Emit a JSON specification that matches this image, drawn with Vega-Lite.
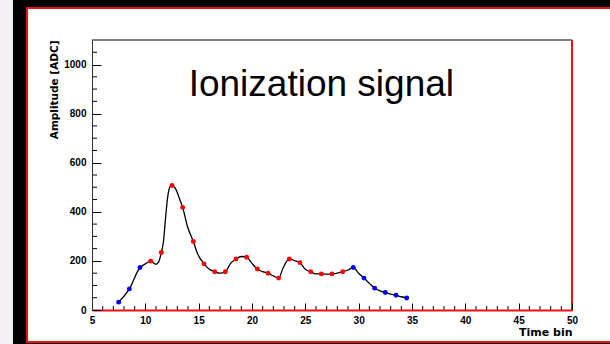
{
  "$schema": "https://vega.github.io/schema/vega-lite/v6.json",
  "width": 480,
  "height": 270,
  "autosize": {"type": "none"},
  "padding": {"left": 92, "top": 40, "right": 38, "bottom": 34},
  "background": "black",
  "config": {
    "view": {"stroke": null},
    "font": "Liberation Sans"
  },
  "datasets": {
    "samples": [
      {"t": 7.5, "amp": 32, "sel": "edge"},
      {"t": 8.5, "amp": 86, "sel": "edge"},
      {"t": 9.5, "amp": 173, "sel": "edge"},
      {"t": 10.5, "amp": 199, "sel": "signal"},
      {"t": 11.5, "amp": 234, "sel": "signal"},
      {"t": 12.5, "amp": 507, "sel": "signal"},
      {"t": 13.5, "amp": 418, "sel": "signal"},
      {"t": 14.5, "amp": 279, "sel": "signal"},
      {"t": 15.5, "amp": 188, "sel": "signal"},
      {"t": 16.5, "amp": 156, "sel": "signal"},
      {"t": 17.5, "amp": 156, "sel": "signal"},
      {"t": 18.5, "amp": 208, "sel": "signal"},
      {"t": 19.5, "amp": 215, "sel": "signal"},
      {"t": 20.5, "amp": 167, "sel": "signal"},
      {"t": 21.5, "amp": 150, "sel": "signal"},
      {"t": 22.5, "amp": 130, "sel": "signal"},
      {"t": 23.5, "amp": 208, "sel": "signal"},
      {"t": 24.5, "amp": 193, "sel": "signal"},
      {"t": 25.5, "amp": 156, "sel": "signal"},
      {"t": 26.5, "amp": 147, "sel": "signal"},
      {"t": 27.5, "amp": 147, "sel": "signal"},
      {"t": 28.5, "amp": 156, "sel": "signal"},
      {"t": 29.5, "amp": 173, "sel": "edge"},
      {"t": 30.5, "amp": 130, "sel": "edge"},
      {"t": 31.5, "amp": 89, "sel": "edge"},
      {"t": 32.5, "amp": 71, "sel": "edge"},
      {"t": 33.5, "amp": 60, "sel": "edge"},
      {"t": 34.5, "amp": 49, "sel": "edge"}
    ],
    "curve": [
      {"t": 7.5, "amp": 32}, {"t": 8.5, "amp": 86}, {"t": 9.5, "amp": 173},
      {"t": 10.0, "amp": 188}, {"t": 10.5, "amp": 199}, {"t": 11.0, "amp": 186},
      {"t": 11.25, "amp": 196}, {"t": 11.5, "amp": 234}, {"t": 11.7, "amp": 279},
      {"t": 11.88, "amp": 367}, {"t": 12.1, "amp": 462}, {"t": 12.3, "amp": 501},
      {"t": 12.5, "amp": 507}, {"t": 12.85, "amp": 493}, {"t": 13.18, "amp": 456},
      {"t": 13.5, "amp": 418}, {"t": 13.95, "amp": 340}, {"t": 14.5, "amp": 279},
      {"t": 14.88, "amp": 231}, {"t": 15.5, "amp": 188}, {"t": 16.0, "amp": 166},
      {"t": 16.5, "amp": 156}, {"t": 17.0, "amp": 150}, {"t": 17.5, "amp": 156},
      {"t": 18.0, "amp": 190}, {"t": 18.5, "amp": 208}, {"t": 19.0, "amp": 218},
      {"t": 19.5, "amp": 215}, {"t": 20.0, "amp": 190}, {"t": 20.5, "amp": 167},
      {"t": 21.0, "amp": 156}, {"t": 21.5, "amp": 150}, {"t": 22.0, "amp": 139},
      {"t": 22.5, "amp": 130}, {"t": 22.9, "amp": 170}, {"t": 23.5, "amp": 208},
      {"t": 24.0, "amp": 201}, {"t": 24.5, "amp": 193}, {"t": 25.0, "amp": 166},
      {"t": 25.5, "amp": 156}, {"t": 26.0, "amp": 147}, {"t": 26.5, "amp": 147},
      {"t": 27.0, "amp": 146}, {"t": 27.5, "amp": 147}, {"t": 28.0, "amp": 150},
      {"t": 28.5, "amp": 156}, {"t": 29.0, "amp": 163}, {"t": 29.5, "amp": 173},
      {"t": 30.0, "amp": 150}, {"t": 30.5, "amp": 130}, {"t": 31.0, "amp": 109},
      {"t": 31.5, "amp": 89}, {"t": 32.0, "amp": 78}, {"t": 32.5, "amp": 71},
      {"t": 33.0, "amp": 65}, {"t": 33.5, "amp": 60}, {"t": 34.0, "amp": 54},
      {"t": 34.5, "amp": 49}
    ],
    "minor_t": [
      {"t": 6}, {"t": 7}, {"t": 8}, {"t": 9}, {"t": 11}, {"t": 12}, {"t": 13}, {"t": 14},
      {"t": 16}, {"t": 17}, {"t": 18}, {"t": 19}, {"t": 21}, {"t": 22}, {"t": 23}, {"t": 24},
      {"t": 26}, {"t": 27}, {"t": 28}, {"t": 29}, {"t": 31}, {"t": 32}, {"t": 33}, {"t": 34},
      {"t": 36}, {"t": 37}, {"t": 38}, {"t": 39}, {"t": 41}, {"t": 42}, {"t": 43}, {"t": 44},
      {"t": 46}, {"t": 47}, {"t": 48}, {"t": 49}
    ],
    "minor_amp": [
      {"amp": 50}, {"amp": 100}, {"amp": 150}, {"amp": 250}, {"amp": 300}, {"amp": 350},
      {"amp": 450}, {"amp": 500}, {"amp": 550}, {"amp": 650}, {"amp": 700}, {"amp": 750},
      {"amp": 850}, {"amp": 900}, {"amp": 950}, {"amp": 1050}
    ]
  },
  "layer": [
    {
      "data": {"values": [{}]},
      "mark": {"type": "rect", "fill": "#f3f1f4", "clip": false},
      "encoding": {
        "x": {
          "datum": -4, "type": "quantitative",
          "scale": {"domain": [5, 50], "nice": false, "zero": false},
          "axis": {
            "zindex": 1,
            "values": [5, 10, 15, 20, 25, 30, 35, 40, 45, 50],
            "format": "d",
            "labelFontSize": 10, "labelFontWeight": "bold", "labelColor": "black",
            "labelPadding": 12, "labelFlush": false, "labelOverlap": false,
            "tickSize": -7, "tickColor": "black", "tickWidth": 1,
            "domainColor": "#ee1111", "domainWidth": 2,
            "grid": false,
            "title": "Time bin",
            "titleFont": "DejaVu Sans",
            "titleAnchor": "end", "titleAlign": "right",
            "titleFontSize": 11, "titleFontWeight": "bold", "titleColor": "black",
            "titlePadding": 1
          }
        },
        "x2": {"datum": -2.41},
        "y": {
          "datum": -300, "type": "quantitative",
          "scale": {"domain": [0, 1100], "nice": false, "zero": false},
          "axis": {
            "zindex": 1,
            "values": [0, 200, 400, 600, 800, 1000],
            "format": "d",
            "labelFontSize": 10, "labelFontWeight": "bold", "labelColor": "black",
            "labelPadding": 15, "labelFlush": false, "labelOverlap": false,
            "tickSize": -9, "tickColor": "black", "tickWidth": 1,
            "domainColor": "#333333", "domainWidth": 1,
            "grid": false,
            "title": "Amplitude [ADC]",
            "titleFont": "DejaVu Sans",
            "titleAnchor": "end",
            "titleFontSize": 10.5, "titleFontWeight": "bold", "titleColor": "black",
            "titlePadding": 4
          }
        },
        "y2": {"datum": 1400}
      }
    },
    {
      "data": {"values": [{}]},
      "mark": {"type": "rect", "fill": "white", "stroke": "#ee1111", "strokeWidth": 2, "clip": false},
      "encoding": {
        "x": {"datum": -1.09, "type": "quantitative", "scale": {"domain": [5, 50], "nice": false, "zero": false}},
        "x2": {"datum": 54.5},
        "y": {"datum": -130, "type": "quantitative", "scale": {"domain": [0, 1100], "nice": false, "zero": false}},
        "y2": {"datum": 1230}
      }
    },
    {
      "data": {"name": "minor_t"},
      "mark": {"type": "tick", "orient": "vertical", "size": 4, "thickness": 1, "color": "black", "yOffset": -2, "opacity": 1},
      "encoding": {
        "x": {"field": "t", "type": "quantitative", "scale": {"domain": [5, 50], "nice": false, "zero": false}},
        "y": {"datum": 0, "type": "quantitative", "scale": {"domain": [0, 1100], "nice": false, "zero": false}}
      }
    },
    {
      "data": {"name": "minor_amp"},
      "mark": {"type": "tick", "orient": "horizontal", "size": 5, "thickness": 1, "color": "black", "xOffset": 2.5, "opacity": 1},
      "encoding": {
        "x": {"datum": 5, "type": "quantitative", "scale": {"domain": [5, 50], "nice": false, "zero": false}},
        "y": {"field": "amp", "type": "quantitative", "scale": {"domain": [0, 1100], "nice": false, "zero": false}}
      }
    },
    {
      "data": {"name": "curve"},
      "mark": {"type": "line", "color": "black", "strokeWidth": 1.3, "interpolate": "monotone"},
      "encoding": {
        "x": {"field": "t", "type": "quantitative", "scale": {"domain": [5, 50], "nice": false, "zero": false}},
        "y": {"field": "amp", "type": "quantitative", "scale": {"domain": [0, 1100], "nice": false, "zero": false}}
      }
    },
    {
      "data": {"name": "samples"},
      "mark": {"type": "circle", "size": 24, "opacity": 1},
      "encoding": {
        "x": {"field": "t", "type": "quantitative", "scale": {"domain": [5, 50], "nice": false, "zero": false}},
        "y": {"field": "amp", "type": "quantitative", "scale": {"domain": [0, 1100], "nice": false, "zero": false}},
        "color": {"field": "sel", "type": "nominal", "scale": {"domain": ["signal", "edge"], "range": ["#ff0000", "#0000ff"]}, "legend": null}
      }
    },
    {
      "data": {"values": [{}]},
      "mark": {"type": "rule", "color": "#555555", "strokeWidth": 1.5},
      "encoding": {
        "x": {"datum": 5, "type": "quantitative", "scale": {"domain": [5, 50], "nice": false, "zero": false}},
        "x2": {"datum": 50},
        "y": {"datum": 1100, "type": "quantitative", "scale": {"domain": [0, 1100], "nice": false, "zero": false}}
      }
    },
    {
      "data": {"values": [{}]},
      "mark": {"type": "rule", "color": "#ee1111", "strokeWidth": 2},
      "encoding": {
        "x": {"datum": 50, "type": "quantitative", "scale": {"domain": [5, 50], "nice": false, "zero": false}},
        "y": {"datum": 0, "type": "quantitative", "scale": {"domain": [0, 1100], "nice": false, "zero": false}},
        "y2": {"datum": 1100}
      }
    },
    {
      "data": {"values": [{"label": "Ionization signal"}]},
      "mark": {"type": "text", "font": "Liberation Sans", "fontSize": 37, "color": "black", "align": "center", "baseline": "alphabetic"},
      "encoding": {
        "x": {"datum": 26.5, "type": "quantitative", "scale": {"domain": [5, 50], "nice": false, "zero": false}},
        "y": {"datum": 873, "type": "quantitative", "scale": {"domain": [0, 1100], "nice": false, "zero": false}},
        "text": {"field": "label"}
      }
    }
  ]
}
